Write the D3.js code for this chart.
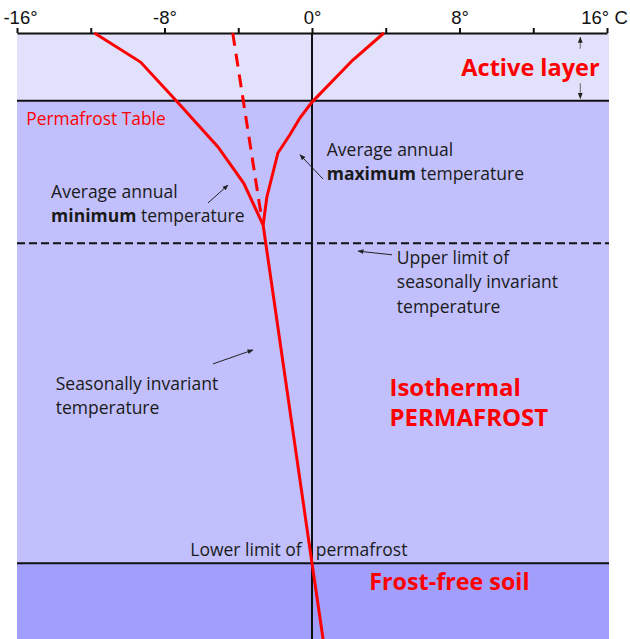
<!DOCTYPE html>
<html>
<head>
<meta charset="utf-8">
<script src="https://cdn.jsdelivr.net/npm/d3@7"></script>
<style>
  body { margin: 0; background: #fff; }
  svg { display: block; }
  .note { font-family: "Open Sans", sans-serif; font-size: 17.5px; fill: #1a1a1a; }
  .big { font-family: "Open Sans", sans-serif; font-weight: bold; fill: #ff0000; }
  .axis text { font-family: "Liberation Sans", Arial, sans-serif; font-size: 18.5px; fill: #111; }
</style>
</head>
<body>
<svg id="chart" width="630" height="639"></svg>
<script>
// temperature axis (°C)
const tempTicks = [-16, -12, -8, -4, 0, 4, 8, 12, 16];
const labelledTicks = [-16, -8, 0, 8, 16];

// relative depth, 0 = ground surface, 100 = bottom of the drawing
const zones = ["Active layer", "Permafrost", "Frost-free soil"];
const zoneTop = [0, 11.2, 87.5];
const zoneBottom = [11.2, 87.5, 100];
const zoneColor = ["#e1e1fb", "#c1c0fd", "#a19efc"];

const permafrostTable = 11.2;
const invariantLimit = 34.7;
const lowerLimit = 87.5;

// average annual minimum temperature
const minDepth = [0, 4.8, 11.4, 18.8, 24.8, 31.7];
const minTemp = [-11.8, -9.3, -7.3, -5.1, -3.7, -2.65];

// average annual maximum temperature
const maxDepth = [0, 4.5, 11.4, 14.0, 16.8, 19.8, 27.1, 31.7];
const maxTemp = [3.9, 2.2, 0, -0.65, -1.2, -1.85, -2.45, -2.65];

// mean annual temperature (dashed)
const meanDepth = [0, 31.2];
const meanTemp = [-4.3, -2.7];

// seasonally invariant temperature
const invDepth = [31.7, 87.5, 100];
const invTemp = [-2.65, 0, 0.6];

const svg = d3.select("#chart");
const x = d3.scaleLinear().domain([-16, 16]).range([17, 607]);
const y = d3.scaleLinear().domain([0, 100]).range([33, 639]);

// depth zones
svg.append("g")
  .selectAll("rect")
  .data(zones)
  .join("rect")
  .attr("x", x(-16))
  .attr("width", x(16) - x(-16) + 2)
  .attr("y", (d, i) => y(zoneTop[i]))
  .attr("height", (d, i) => y(zoneBottom[i]) - y(zoneTop[i]))
  .attr("fill", (d, i) => zoneColor[i]);

// boundaries
const bounds = [
  { d: permafrostTable, dash: null },
  { d: invariantLimit, dash: "8,4" },
  { d: lowerLimit, dash: null }
];
svg.append("g")
  .selectAll("line")
  .data(bounds)
  .join("line")
  .attr("x1", x(-16))
  .attr("x2", x(16) + 2)
  .attr("y1", d => y(d.d))
  .attr("y2", d => y(d.d))
  .attr("stroke", "#111")
  .attr("stroke-width", 2)
  .attr("stroke-dasharray", d => d.dash);

// 0° line
svg.append("line")
  .attr("x1", x(0)).attr("x2", x(0))
  .attr("y1", y(0)).attr("y2", y(100))
  .attr("stroke", "#111")
  .attr("stroke-width", 2);

// temperature axis
const axis = svg.append("g")
  .attr("class", "axis")
  .attr("transform", `translate(0,${y(0)})`)
  .call(d3.axisTop(x)
    .tickValues(tempTicks)
    .tickSize(5)
    .tickSizeOuter(0)
    .tickPadding(4)
    .tickFormat(d => labelledTicks.includes(d) ? (d === 16 ? "16° C" : d + "°") : ""));
axis.select(".domain").attr("stroke", "#111").attr("stroke-width", 2);
axis.selectAll(".tick line").attr("stroke", "#111").attr("stroke-width", 2);
axis.selectAll(".tick text")
  .attr("dx", d => d === -16 ? 3 : d === 16 ? -3 : 0);

// temperature profiles
const line = d3.line().x(d => x(d[1])).y(d => y(d[0]));
const profiles = [
  { depth: minDepth, temp: minTemp, dash: null },
  { depth: maxDepth, temp: maxTemp, dash: null },
  { depth: meanDepth, temp: meanTemp, dash: "13,8" },
  { depth: invDepth, temp: invTemp, dash: null }
];
svg.append("g")
  .selectAll("path")
  .data(profiles)
  .join("path")
  .attr("d", p => line(d3.zip(p.depth, p.temp)))
  .attr("fill", "none")
  .attr("stroke", "#ff0000")
  .attr("stroke-width", 3)
  .attr("stroke-dasharray", p => p.dash);

// arrow marker
svg.append("defs").append("marker")
  .attr("id", "head")
  .attr("viewBox", "0 0 10 10")
  .attr("refX", 9).attr("refY", 5)
  .attr("markerWidth", 6).attr("markerHeight", 6)
  .attr("orient", "auto")
  .append("path")
  .attr("d", "M0,1 L10,5 L0,9 Z")
  .attr("fill", "#222");

// pointer arrows: [tail temp, tail depth, head temp, head depth]
const arrows = [
  [-5.64, 28.05, -4.56, 25.1],
  [0.6, 24.1, -0.65, 20.1],
  [4.34, 36.6, 2.5, 36.0],
  [-5.37, 54.6, -3.2, 52.3],
  [14.55, 2.6, 14.55, 0.7],
  [14.55, 8.3, 14.55, 10.8]
];
svg.append("g")
  .selectAll("line")
  .data(arrows)
  .join("line")
  .attr("x1", d => x(d[0])).attr("y1", d => y(d[1]))
  .attr("x2", d => x(d[2])).attr("y2", d => y(d[3]))
  .attr("stroke", (d, i) => i > 3 ? "#666" : "#222")
  .attr("stroke-width", 1)
  .attr("marker-end", "url(#head)");

// annotations
function note(t, d, lines, cls, size, lead) {
  const txt = svg.append("text")
    .attr("class", cls)
    .attr("x", x(t))
    .attr("y", y(d))
    .style("font-size", size + "px");
  lines.forEach((ln, i) => {
    const ts = txt.append("tspan").attr("x", x(t)).attr("dy", i ? lead : 0);
    ln.forEach(part => {
      ts.append("tspan").text(part.text).style("font-weight", part.bold ? "bold" : null);
    });
  });
  return txt;
}
const p = s => ({ text: s });
const b = s => ({ text: s, bold: true });

note(8.1, 7.1, [[p("Active layer")]], "big", 23.5, 0);
note(-15.5, 15.2, [[p("Permafrost Table")]], "note", 17.4, 0).style("fill", "#ff0000");
note(-14.15, 27.2, [[p("Average annual")], [b("minimum"), p(" temperature")]], "note", 17.5, 24);
note(0.8, 20.3, [[p("Average annual")], [b("maximum"), p(" temperature")]], "note", 17.5, 24);
note(4.6, 38.1, [[p("Upper limit of")], [p("seasonally invariant")], [p("temperature")]], "note", 17.5, 24.5);
note(-13.9, 58.9, [[p("Seasonally invariant")], [p("temperature")]], "note", 17.5, 24);
note(4.2, 59.9, [[p("Isothermal")], [p("PERMAFROST")]], "big", 24, 30);
note(-6.6, 86.3, [[p("Lower limit of")]], "note", 17.5, 0);
note(0.2, 86.3, [[p("permafrost")]], "note", 17.5, 0);
note(3.1, 91.9, [[p("Frost-free soil")]], "big", 23.3, 0);
</script>
</body>
</html>
